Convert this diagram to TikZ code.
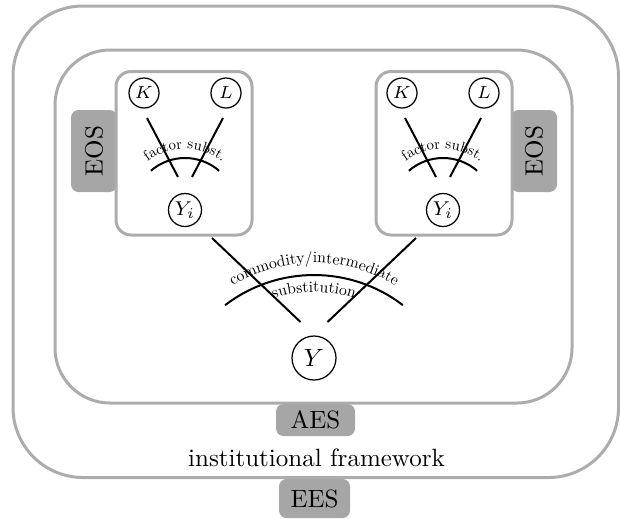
\documentclass[tikz,border=0pt]{standalone}
\usepackage{fontspec}
\setmainfont{lmroman10-regular.otf}[ItalicFont=lmroman10-italic.otf, BoldFont=lmroman10-bold.otf]
\usepackage{tikz}
\usetikzlibrary{calc,decorations.text}
\definecolor{framegray}{RGB}{172,172,172}
\definecolor{boxgray}{RGB}{166,166,166}

\begin{document}
\begin{tikzpicture}[x=4pt, y=4pt,
        frame/.style={draw=framegray, line width=1.2pt},
        tag/.style={fill=boxgray, rounded corners=3pt, inner sep=0pt},
        var/.style={draw, circle, inner sep=0pt, line width=0.5pt},
        link/.style={line width=0.8pt}]
        \useasboundingbox (0,0) rectangle (62,51.8);

        \node[tag, minimum width=28.4pt, minimum height=15.6pt] (10) at (31.45,1.95) {EES};
        \node[tag, minimum width=31.6pt, minimum height=12.8pt] (9) at (31.55,9.8) {AES};
        \node[tag, rotate=90, minimum width=32.8pt, minimum height=18.4pt] (11) at (9.4,36.7) {EOS};
        \node[tag, rotate=90, minimum width=32.8pt, minimum height=18.4pt] (12) at (53.4,36.7) {EOS};

        \draw[frame, rounded corners=28pt] (1.3,4.05) rectangle (61.85,51.2);
        \draw[frame, rounded corners=22pt] (5.5,11.5) rectangle (57.2,46.8);
        \draw[frame, fill=white, rounded corners=6pt] (11.6,28.3) rectangle (25.2,44.65);
        \draw[frame, fill=white, rounded corners=6pt] (37.6,28.3) rectangle (51.2,44.65);

        \node (13) at (31.65,6.0) {institutional framework};

        \node[var, minimum size=12pt, font=\scriptsize] (1) at (14.4,42.5) {$K$};
        \node[var, minimum size=12pt, font=\scriptsize] (2) at (22.6,42.5) {$L$};
        \node[var, minimum size=13.2pt, font=\footnotesize] (3) at (18.5,30.8) {$Y_i$};
        \node[var, minimum size=12pt, font=\scriptsize] (4) at (40.2,42.5) {$K$};
        \node[var, minimum size=12pt, font=\scriptsize] (5) at (48.4,42.5) {$L$};
        \node[var, minimum size=13.2pt, font=\footnotesize] (6) at (44.3,30.8) {$Y_i$};
        \node[var, minimum size=17.6pt] (7) at (31.4,16.0) {$Y$};
        \coordinate (8) at ($(7)+(0,-6.3)$);

        \draw[link] ($(1)+(0.3,-2.5)$) -- ($(3)+(-0.7,3.3)$) ($(2)+(-0.3,-2.5)$) -- ($(3)+(0.7,3.3)$);
        \draw[link] ($(4)+(0.3,-2.5)$) -- ($(6)+(-0.7,3.3)$) ($(5)+(-0.3,-2.5)$) -- ($(6)+(0.7,3.3)$);
        \draw[link] ($(3)+(131:5.2)$) arc[start angle=131, end angle=49, radius=5.2];
        \draw[link] ($(6)+(131:5.2)$) arc[start angle=131, end angle=49, radius=5.2];
        \path[decorate, decoration={text along path, text align=center,
            text={|\fontsize{5.9}{7}\selectfont|factor subst.}}]
            ($(3)+(145:6.1)$) arc[start angle=145, end angle=35, radius=6.1];
        \path[decorate, decoration={text along path, text align=center,
            text={|\fontsize{5.9}{7}\selectfont|factor subst.}}]
            ($(6)+(145:6.1)$) arc[start angle=145, end angle=35, radius=6.1];

        \draw[link] ($(3)+(2.7,-2.8)$) -- ($(7)+(-1.35,3.6)$) ($(6)+(-2.7,-2.8)$) -- ($(7)+(1.35,3.6)$);
        \draw[link] ($(8)+(127.5:14.6)$) arc[start angle=127.5, end angle=52.5, radius=14.6];
        \path[decorate, decoration={text along path, text align=center,
            text={|\fontsize{6.3}{7}\selectfont|commodity/intermediate}}]
            ($(8)+(140:15.8)$) arc[start angle=140, end angle=40, radius=15.8];
        \path[decorate, decoration={text along path, text align=center,
            text={|\fontsize{6.3}{7}\selectfont|substitution}}]
            ($(8)+(130:12.9)$) arc[start angle=130, end angle=50, radius=12.9];
\end{tikzpicture}
\end{document}
